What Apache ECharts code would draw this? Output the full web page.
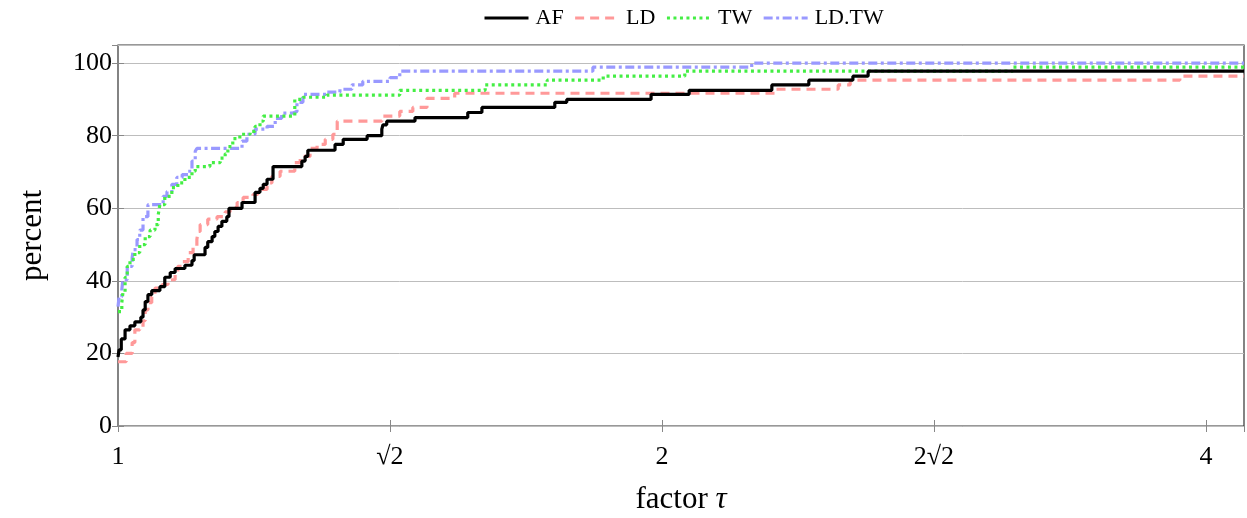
<!DOCTYPE html>
<html>
<head>
<meta charset="utf-8">
<script src="https://cdn.jsdelivr.net/npm/echarts@6/dist/echarts.min.js"></script>
<style>
html,body{margin:0;padding:0;background:#fff;}
#chart{width:1247px;height:518px;}
</style>
</head>
<body>
<div id="chart"></div>
<script>
// x values are log2(tau) where a step occurs; y values are percent reached at that step
const xMax = 2.07;
const tickLabels = ['1', '√2', '2', '2√2', '4'];

const afX = [0,0.002,0.006,0.013,0.022,0.031,0.042,0.046,0.050,0.055,0.062,0.077,0.086,0.096,0.105,0.123,0.136,0.140,0.160,0.165,0.173,0.178,0.184,0.191,0.200,0.204,0.228,0.252,0.261,0.267,0.274,0.285,0.338,0.344,0.349,0.399,0.414,0.458,0.485,0.487,0.494,0.546,0.643,0.669,0.803,0.825,0.980,1.050,1.202,1.270,1.351,1.379];
const afY = [19,21,24,26.5,27.6,28.7,30,32,34.3,36.2,37.3,38.4,41,42.3,43.4,44.3,45.6,47.2,49.2,50.8,52.2,53.6,55,56.4,57.7,60,61.6,64.4,65.5,66.6,68,71.5,73,74.3,76,77.6,79,80,81.8,83,84,85,86.4,87.8,89.2,90,91.4,92.5,94,95.3,96.4,97.8];

const ldX = [0,0.015,0.026,0.031,0.040,0.046,0.050,0.055,0.062,0.068,0.081,0.092,0.105,0.110,0.118,0.129,0.138,0.145,0.147,0.151,0.165,0.182,0.197,0.206,0.219,0.230,0.248,0.257,0.274,0.283,0.298,0.325,0.335,0.353,0.366,0.381,0.395,0.403,0.485,0.518,0.542,0.568,0.619,1.208,1.324,1.346,1.952];
const ldY = [17.7,20,23,26.5,27.3,29,32,34,35.6,38,39,40.3,42.3,44,45.3,47.8,49.2,51.4,53.6,55.5,57,57.7,59,60.2,61.6,63,63.8,65.2,67,68.8,70.2,72.6,74.3,76.5,77.6,79,80.4,84,85.4,86.7,87.8,90.3,91.7,92.8,94,95.3,96.4];

const twX = [0,0.007,0.009,0.013,0.017,0.022,0.031,0.040,0.050,0.059,0.068,0.074,0.077,0.086,0.099,0.110,0.123,0.136,0.142,0.169,0.188,0.197,0.202,0.211,0.224,0.243,0.252,0.261,0.267,0.325,0.340,0.384,0.518,0.675,0.789,0.892,1.042,1.645];
const twY = [31.5,34,36.7,41,44,45.9,47.8,50,52.2,54,55.5,58.3,61,63.3,65.7,67,68.5,70.2,71.5,72.6,73.8,75,77,79.2,80.4,81.2,82.6,84,85.4,90,90.6,91.2,92.5,94,95.3,96.4,97.8,98.9];

const ldtwX = [0,0.002,0.007,0.009,0.017,0.026,0.028,0.035,0.040,0.046,0.055,0.083,0.090,0.099,0.108,0.118,0.129,0.136,0.142,0.145,0.228,0.237,0.252,0.274,0.289,0.301,0.320,0.329,0.340,0.384,0.408,0.430,0.450,0.500,0.518,0.873,1.165];
const ldtwY = [32.9,35.6,37.6,40.3,44,46.4,48.6,51.4,54,57.7,61,63.3,64.6,66.6,68.5,69.3,70.2,73,75.7,76.5,78.5,80.4,81.8,82.6,84.8,86.2,86.7,89.2,91.4,92,92.8,94,95,96,97.8,98.9,100];

function pts(xs, ys) {
  const d = xs.map((x, i) => [x, ys[i]]);
  d.push([xMax, ys[ys.length - 1]]);
  return d;
}

const serif = '"Liberation Serif", "DejaVu Serif", serif';
const chart = echarts.init(document.getElementById('chart'));

const xCommon = {
  type: 'value', min: 0, max: xMax, interval: 0.5,
  axisLine: { show: false },
  axisTick: { show: true, inside: true, length: 6, lineStyle: { color: '#888', width: 1 } },
  splitLine: { show: false }
};

chart.setOption({
  animation: false,
  backgroundColor: '#fff',
  grid: { left: 118, right: 3, top: 45, bottom: 92, show: true, borderColor: '#333', borderWidth: 1.2,
          containLabel: false, outerBoundsMode: 'none' },
  legend: {
    top: 2, left: 478, itemWidth: 44, itemHeight: 14, itemGap: 10,
    itemStyle: { opacity: 0 },
    lineStyle: { width: 3 },
    textStyle: { fontFamily: serif, fontSize: 22, color: '#000', padding: [0, 0, 0, 2] },
    data: ['AF', 'LD', 'TW', 'LD.TW']
  },
  xAxis: [
    Object.assign({}, xCommon, {
      position: 'bottom',
      name: '{n|factor }{t|τ}', nameLocation: 'middle', nameGap: 58,
      nameTextStyle: { rich: { n: { fontFamily: serif, fontSize: 31, color: '#000' }, t: { fontFamily: serif, fontSize: 31, fontStyle: 'italic', color: '#000' } } },
      axisLabel: {
        showMaxLabel: false, margin: 18,
        fontFamily: serif, fontSize: 26, color: '#000',
        formatter: v => { const i = Math.round(v / 0.5); return Math.abs(v - i * 0.5) < 1e-6 && i < tickLabels.length ? tickLabels[i] : ''; }
      }
    }),
    Object.assign({}, xCommon, { position: 'top', axisLabel: { show: false } })
  ],
  yAxis: [{
    type: 'value', min: 0, max: 105, interval: 20,
    name: 'percent', nameLocation: 'middle', nameGap: 70, nameRotate: 90,
    nameTextStyle: { fontFamily: serif, fontSize: 31, color: '#000' },
    axisLine: { show: false },
    axisTick: { show: true, inside: true, length: 6, lineStyle: { color: '#888' } },
    axisLabel: { fontFamily: serif, fontSize: 26, color: '#000', margin: 6, showMaxLabel: false,
      formatter: v => v > 100 ? '' : String(v) },
    splitLine: { show: true, lineStyle: { color: '#bdbdbd', width: 1 } }
  }, {
    type: 'value', min: 0, max: 105, interval: 20, position: 'right',
    axisLine: { show: false }, axisLabel: { show: false }, splitLine: { show: false },
    axisTick: { show: true, inside: true, length: 6, lineStyle: { color: '#888' } }
  }],
  series: [
    { name: 'AF', type: 'line', step: 'end', showSymbol: false, symbol: 'none', data: pts(afX, afY), z: 4,
      itemStyle: { color: '#000' }, lineStyle: { color: '#000', width: 3.2, type: 'solid' } },
    { name: 'LD', type: 'line', step: 'end', showSymbol: false, symbol: 'none', data: pts(ldX, ldY), z: 3,
      itemStyle: { color: '#ff9999' }, lineStyle: { color: '#ff9999', width: 3.2, type: [9, 6] } },
    { name: 'TW', type: 'line', step: 'end', showSymbol: false, symbol: 'none', data: pts(twX, twY), z: 3,
      itemStyle: { color: '#44ee44' }, lineStyle: { color: '#44ee44', width: 3.2, type: [3, 3.5] } },
    { name: 'LD.TW', type: 'line', step: 'end', showSymbol: false, symbol: 'none', data: pts(ldtwX, ldtwY), z: 2,
      itemStyle: { color: '#9999ff' }, lineStyle: { color: '#9999ff', width: 3.2, type: [9, 3.5, 3, 3.5] } }
  ]
});
</script>
</body>
</html>
